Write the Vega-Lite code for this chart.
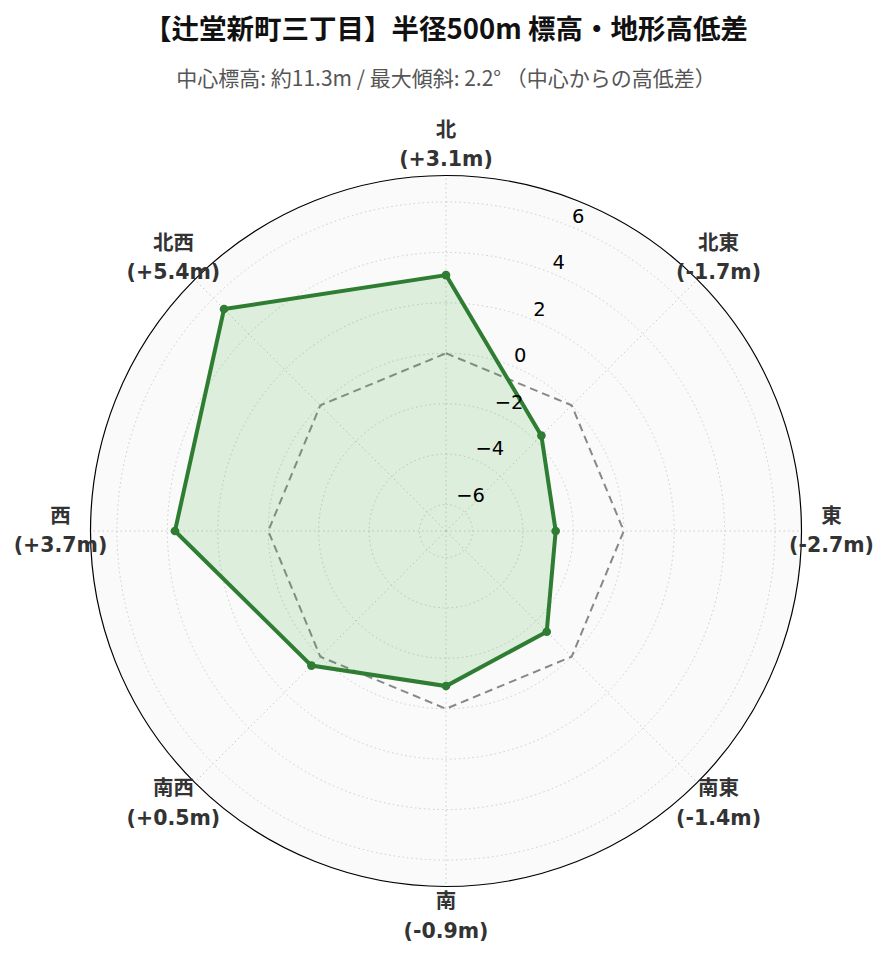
{
  "$schema": "https://vega.github.io/schema/vega-lite/v6.json",
  "width": 711,
  "height": 711,
  "autosize": "none",
  "padding": {"left": 90.5, "top": 175.5, "right": 87.5, "bottom": 75.5},
  "background": "white",
  "config": {"view": {"stroke": null}},
  "title": {
    "text": "【辻堂新町三丁目】半径500m 標高・地形高低差",
    "subtitle": "中心標高: 約11.3m / 最大傾斜: 2.2° （中心からの高低差）",
    "font": "Noto Sans CJK JP",
    "fontSize": 27.5,
    "fontWeight": "bold",
    "color": "#111111",
    "subtitleFont": "Noto Sans CJK JP",
    "subtitleFontSize": 21,
    "subtitleColor": "#555555",
    "subtitlePadding": 24,
    "offset": 31,
    "anchor": "middle",
    "frame": "group"
  },
  "datasets": {
    "dirs": [
      {"dir": "北", "angle": 0, "value": 3.1, "label": "北\n(+3.1m)"},
      {"dir": "北東", "angle": 45, "value": -1.7, "label": "北東\n(-1.7m)"},
      {"dir": "東", "angle": 90, "value": -2.7, "label": "東\n(-2.7m)"},
      {"dir": "南東", "angle": 135, "value": -1.4, "label": "南東\n(-1.4m)"},
      {"dir": "南", "angle": 180, "value": -0.9, "label": "南\n(-0.9m)"},
      {"dir": "南西", "angle": 225, "value": 0.5, "label": "南西\n(+0.5m)"},
      {"dir": "西", "angle": 270, "value": 3.7, "label": "西\n(+3.7m)"},
      {"dir": "北西", "angle": 315, "value": 5.4, "label": "北西\n(+5.4m)"}
    ],
    "ticks": [
      {"v": -6, "label": "−6"},
      {"v": -4, "label": "−4"},
      {"v": -2, "label": "−2"},
      {"v": 0, "label": "0"},
      {"v": 2, "label": "2"},
      {"v": 4, "label": "4"},
      {"v": 6, "label": "6"}
    ]
  },
  "layer": [
    {
      "data": {"values": [{"r": 14.1}]},
      "mark": {"type": "arc", "theta": 0, "theta2": 6.2832, "fill": "#fafafa", "stroke": null},
      "encoding": {
        "radius": {"field": "r", "type": "quantitative", "stack": null, "scale": {"type": "linear", "domain": [0, 14.1], "range": [0, 355.5], "zero": true}, "legend": null}
      }
    },
    {
      "data": {"name": "ticks"},
      "transform": [{"calculate": "datum.v + 7.05", "as": "r"}],
      "mark": {"type": "arc", "theta": 0, "theta2": 6.2832, "fill": null, "stroke": "#cccccc", "strokeWidth": 1, "strokeDash": [1.5, 3]},
      "encoding": {
        "radius": {"field": "r", "type": "quantitative", "stack": null, "scale": {"type": "linear", "domain": [0, 14.1], "range": [0, 355.5], "zero": true}, "legend": null}
      }
    },
    {
      "data": {"name": "dirs"},
      "transform": [
        {"calculate": "14.1 * sin(datum.angle * PI / 180)", "as": "sx"},
        {"calculate": "14.1 * cos(datum.angle * PI / 180)", "as": "sy"},
        {"calculate": "0", "as": "z"}
      ],
      "mark": {"type": "rule", "stroke": "#cccccc", "strokeWidth": 1, "strokeDash": [1.5, 3]},
      "encoding": {
        "x": {"field": "z", "type": "quantitative", "scale": {"domain": [-14.1, 14.1], "nice": false, "zero": false}, "axis": null},
        "y": {"field": "z", "type": "quantitative", "scale": {"domain": [-14.1, 14.1], "nice": false, "zero": false}, "axis": null},
        "x2": {"field": "sx"},
        "y2": {"field": "sy"}
      }
    },
    {
      "data": {"name": "dirs"},
      "transform": [
        {"calculate": "7.05 * sin(datum.angle * PI / 180)", "as": "rx"},
        {"calculate": "7.05 * cos(datum.angle * PI / 180)", "as": "ry"}
      ],
      "mark": {"type": "line", "interpolate": "linear-closed", "stroke": "#888888", "strokeWidth": 2, "strokeDash": [8, 5]},
      "encoding": {
        "x": {"field": "rx", "type": "quantitative", "scale": {"domain": [-14.1, 14.1], "nice": false, "zero": false}, "axis": null},
        "y": {"field": "ry", "type": "quantitative", "scale": {"domain": [-14.1, 14.1], "nice": false, "zero": false}, "axis": null},
        "order": {"field": "angle", "type": "quantitative"}
      }
    },
    {
      "data": {"name": "dirs"},
      "transform": [
        {"calculate": "(datum.value + 7.05) * sin(datum.angle * PI / 180)", "as": "px"},
        {"calculate": "(datum.value + 7.05) * cos(datum.angle * PI / 180)", "as": "py"}
      ],
      "mark": {"type": "line", "interpolate": "linear-closed", "fill": "#4caf50", "fillOpacity": 0.17, "stroke": "#2e7d32", "strokeWidth": 4, "strokeJoin": "miter"},
      "encoding": {
        "x": {"field": "px", "type": "quantitative", "scale": {"domain": [-14.1, 14.1], "nice": false, "zero": false}, "axis": null},
        "y": {"field": "py", "type": "quantitative", "scale": {"domain": [-14.1, 14.1], "nice": false, "zero": false}, "axis": null},
        "order": {"field": "angle", "type": "quantitative"}
      }
    },
    {
      "data": {"name": "dirs"},
      "transform": [
        {"calculate": "(datum.value + 7.05) * sin(datum.angle * PI / 180)", "as": "px"},
        {"calculate": "(datum.value + 7.05) * cos(datum.angle * PI / 180)", "as": "py"}
      ],
      "mark": {"type": "point", "filled": true, "shape": "circle", "size": 75, "color": "#2e7d32", "opacity": 1},
      "encoding": {
        "x": {"field": "px", "type": "quantitative", "scale": {"domain": [-14.1, 14.1], "nice": false, "zero": false}, "axis": null},
        "y": {"field": "py", "type": "quantitative", "scale": {"domain": [-14.1, 14.1], "nice": false, "zero": false}, "axis": null}
      }
    },
    {
      "data": {"values": [{"r": 14.1}]},
      "mark": {"type": "arc", "theta": 0, "theta2": 6.2832, "fill": null, "stroke": "#000000", "strokeWidth": 1.2},
      "encoding": {
        "radius": {"field": "r", "type": "quantitative", "stack": null, "scale": {"type": "linear", "domain": [0, 14.1], "range": [0, 355.5], "zero": true}, "legend": null}
      }
    },
    {
      "data": {"name": "ticks"},
      "transform": [
        {"calculate": "(datum.v + 7.05) * sin(22.5 * PI / 180)", "as": "tx"},
        {"calculate": "(datum.v + 7.05) * cos(22.5 * PI / 180)", "as": "ty"}
      ],
      "mark": {"type": "text", "font": "DejaVu Sans", "fontSize": 19.5, "color": "#000000", "align": "left", "baseline": "middle", "dx": 0, "dy": -10.5},
      "encoding": {
        "x": {"field": "tx", "type": "quantitative", "scale": {"domain": [-14.1, 14.1], "nice": false, "zero": false}, "axis": null},
        "y": {"field": "ty", "type": "quantitative", "scale": {"domain": [-14.1, 14.1], "nice": false, "zero": false}, "axis": null},
        "text": {"field": "label"}
      }
    },
    {
      "data": {"name": "dirs"},
      "transform": [
        {"calculate": "15.29 * sin(datum.angle * PI / 180)", "as": "lx"},
        {"calculate": "15.29 * cos(datum.angle * PI / 180)", "as": "ly"}
      ],
      "mark": {"type": "text", "font": "DejaVu Sans, Noto Sans CJK JP", "fontSize": 20.5, "fontWeight": "bold", "color": "#333333", "align": "center", "baseline": "middle", "lineBreak": "\n", "lineHeight": 29.5, "dy": -14.5},
      "encoding": {
        "x": {"field": "lx", "type": "quantitative", "scale": {"domain": [-14.1, 14.1], "nice": false, "zero": false}, "axis": null},
        "y": {"field": "ly", "type": "quantitative", "scale": {"domain": [-14.1, 14.1], "nice": false, "zero": false}, "axis": null},
        "text": {"field": "label"}
      }
    }
  ]
}
